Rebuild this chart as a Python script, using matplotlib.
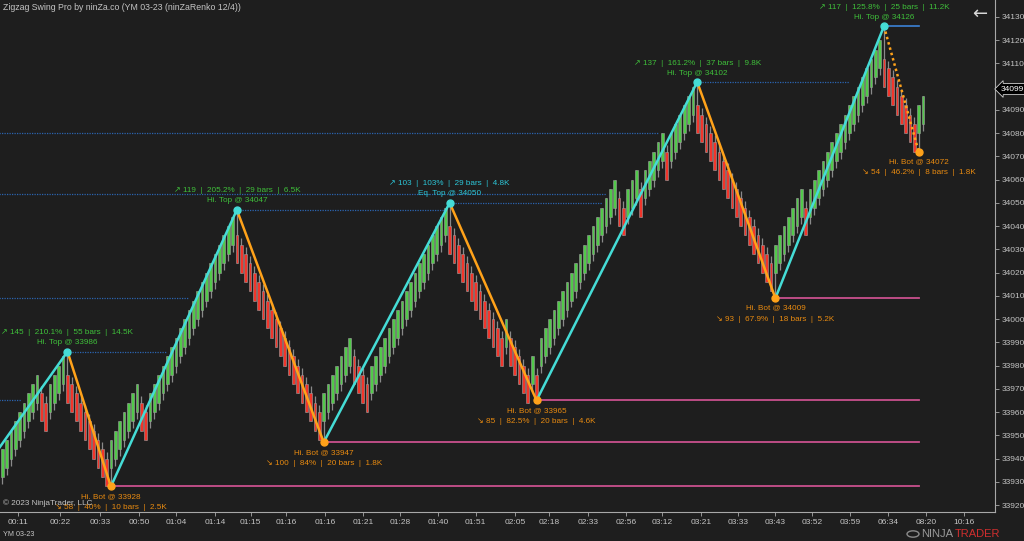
import matplotlib
matplotlib.use('Agg')
import matplotlib.pyplot as plt
from matplotlib.patches import Rectangle, Circle
from matplotlib.collections import PatchCollection, LineCollection
import matplotlib.transforms as mtransforms

plt.rcParams['font.family'] = ['Liberation Sans', 'DejaVu Sans']

# renko bar closes (ninZaRenko 12/4), one per bar
closes = [
    # run up into the 33986 top
    33944, 33948, 33952, 33956, 33960, 33964, 33968, 33972, 33976, 33956,
    33952, 33972, 33976, 33980, 33984, 33964,
    # down to 33928
    33960, 33956, 33952, 33948, 33944, 33940, 33936, 33932, 33928, 33948,
    # up to 34047
    33952, 33956, 33960, 33964, 33968, 33972, 33952, 33948, 33968, 33972,
    33976, 33980, 33984, 33988, 33992, 33996, 34000, 34004, 34008, 34012,
    34016, 34020, 34024, 34028, 34032, 34036, 34040, 34044, 34024,
    # down to 33947
    34020, 34016, 34012, 34008, 34004, 34000, 33996, 33992, 33988, 33984,
    33980, 33976, 33972, 33968, 33964, 33960, 33956, 33952, 33948, 33968,
    # up to 34050
    33972, 33976, 33980, 33984, 33988, 33992, 33972, 33968, 33964, 33960,
    33980, 33984, 33988, 33992, 33996, 34000, 34004, 34008, 34012, 34016,
    34020, 34024, 34028, 34032, 34036, 34040, 34044, 34048, 34028,
    # down to 33965
    34024, 34020, 34016, 34012, 34008, 34004, 34000, 33996, 33992, 33988,
    33984, 33980, 34000, 33980, 33976, 33972, 33968, 33964, 33984, 33964,
    # up to 34102
    33992, 33996, 34000, 34004, 34008, 34012, 34016, 34020, 34024, 34028,
    34032, 34036, 34040, 34044, 34048, 34052, 34056, 34060, 34040, 34036,
    34056, 34060, 34064, 34044, 34064, 34068, 34072, 34076, 34080, 34060,
    34080, 34084, 34088, 34092, 34096, 34100, 34080,
    # down to 34009
    34076, 34072, 34068, 34064, 34060, 34056, 34052, 34048, 34044, 34040,
    34036, 34032, 34028, 34024, 34020, 34016, 34012, 34032,
    # up to 34126
    34036, 34040, 34044, 34048, 34052, 34056, 34036, 34056, 34060, 34064,
    34068, 34072, 34076, 34080, 34084, 34088, 34092, 34096, 34100, 34104,
    34108, 34112, 34116, 34120, 34100,
    # current leg down to 34072 and the bounce
    34096, 34092, 34088, 34084, 34080, 34076, 34072, 34092, 34096,
]
last_price = 34099

# zigzag swing points (bar index, price); first one is off screen
pivot_idx = [-40, 15, 25, 54, 74, 103, 123, 160, 178, 203, 211]
pivot_px = [33841, 33986, 33928, 34047, 33947, 34050, 33965, 34102, 34009, 34126, 34072]

# swing labels for the visible pivots
pivot_names = ['Hi. Top', 'Hi. Bot', 'Hi. Top', 'Hi. Bot', 'Eq. Top',
               'Hi. Bot', 'Hi. Top', 'Hi. Bot', 'Hi. Top', 'Hi. Bot']
swing_pts = [145, 58, 119, 100, 103, 85, 137, 93, 117, 54]
swing_pct = ['210.1%', '40%', '205.2%', '84%', '103%', '82.5%', '161.2%', '67.9%', '125.8%', '46.2%']
swing_bars = [55, 10, 29, 20, 29, 20, 37, 18, 25, 8]
swing_vol = ['14.5K', '2.5K', '6.5K', '1.8K', '4.8K', '4.6K', '9.8K', '5.2K', '11.2K', '1.8K']

# broken resistance levels (dotted): price, from bar, to bar
res_price = [34080, 34054, 34009, 33965, 33986, 34047, 34050, 34102]
res_from = [-1, -1, -1, -1, 15, 54, 103, 160]
res_to = [151, 139, 43, 4.3, 38, 102, 138, 195]
# live top and live supports
top_level = (34126, 203, 211)
sup_price = [33928, 33947, 33965, 34009]
sup_from = [25, 74, 123, 178]
sup_to = 211

time_labels = ['00:11', '00:22', '00:33', '00:50', '01:04', '01:14', '01:15', '01:16', '01:16',
               '01:21', '01:28', '01:40', '01:51', '02:05', '02:18', '02:33', '02:56', '03:12',
               '03:21', '03:33', '03:43', '03:52', '03:59', '06:34', '08:20', '10:16']
time_ticks = [3.6, 13.3, 22.5, 31.5, 40, 49, 57.2, 65.3, 74.3, 83, 91.6, 100.3, 109, 118,
              125.9, 134.8, 143.6, 152, 160.9, 169.4, 177.9, 186.4, 195.2, 203.9, 212.7, 221.4]

BG = '#1e1e1e'
GREEN = '#52c94a'
RED = '#f2352b'
CYAN = '#45dcd6'
ORANGE = '#ffa21a'
TXT = '#c4c4c4'
BRICK = 12
TAIL = 3

W, H = 1024, 541
fig = plt.figure(figsize=(W / 100, H / 100), dpi=100, facecolor=BG)
ax = fig.add_axes([0, 29 / H, 995 / W, 512 / H])
ax.set_facecolor(BG)

# bars
bodies, colors, wicks = [], [], []
for i, c in enumerate(closes):
    up = True if i == 0 else c > closes[i - 1]
    o = c - BRICK if up else c + BRICK
    lo, hi = min(o, c), max(o, c)
    if up:
        lo -= TAIL
    else:
        hi += TAIL
    if i in pivot_idx:
        k = pivot_idx.index(i)
        if pivot_px[k] > pivot_px[k - 1]:
            hi = max(hi, pivot_px[k])
        else:
            lo = min(lo, pivot_px[k])
    wicks.append([(i, lo), (i, hi)])
    bodies.append(Rectangle((i - 0.31, min(o, c)), 0.62, BRICK))
    colors.append(GREEN if up else RED)

ax.add_collection(LineCollection(wicks, colors='#8a8a8a', linewidths=0.9, zorder=2))
ax.add_collection(PatchCollection(bodies, facecolors=colors, edgecolors='#9c9c9c',
                                  linewidths=0.4, zorder=3))

# level lines
for p, a, b in zip(res_price, res_from, res_to):
    ax.plot([a, b], [p, p], color='#2b64b0', lw=0.9, ls=(0, (1, 1)), zorder=1)
ax.plot([top_level[1], top_level[2]], [top_level[0]] * 2, color='#3b82d6', lw=1.2, zorder=1)
for p, a in zip(sup_price, sup_from):
    ax.plot([a, sup_to], [p, p], color='#c9508d', lw=1.3, zorder=1)

# zigzag
for k in range(1, len(pivot_idx)):
    xs = [pivot_idx[k - 1], pivot_idx[k]]
    ys = [pivot_px[k - 1], pivot_px[k]]
    going_up = ys[1] > ys[0]
    last = k == len(pivot_idx) - 1
    ax.plot(xs, ys, color=CYAN if going_up else ORANGE, lw=1.8,
            ls=(0, (1, 1.2)) if last else '-', zorder=4)

# pivot dots and labels
for k in range(1, len(pivot_idx)):
    x, p = pivot_idx[k], pivot_px[k]
    is_top = p > pivot_px[k - 1]
    ax.plot(x, p, 'o', ms=5, color=CYAN if is_top else ORANGE, zorder=5)
    j = k - 1
    name = pivot_names[j]
    if is_top:
        col = '#2cc6d8' if name.startswith('Eq') else '#3fbf3a'
        stats = f'↗ {swing_pts[j]}  |  {swing_pct[j]}  |  {swing_bars[j]} bars  |  {swing_vol[j]}'
        off1, off2 = 9, 19
    else:
        col = '#e88a10'
        stats = f'↘ {swing_pts[j]}  |  {swing_pct[j]}  |  {swing_bars[j]} bars  |  {swing_vol[j]}'
        off1, off2 = -10, -21
    ax.annotate(f'{name} @ {p}', (x, p), xytext=(0, off1), textcoords='offset pixels',
                ha='center', va='center', fontsize=5.9, color=col, zorder=6)
    ax.annotate(stats, (x, p), xytext=(0, off2), textcoords='offset pixels',
                ha='center', va='center', fontsize=5.9, color=col, zorder=6)

# axes
ax.set_xlim(-0.54, 228.57)
ax.set_ylim(33917.0, 34137.3)
ax.yaxis.tick_right()
ax.set_yticks(range(33920, 34131, 10))
ax.set_xticks(time_ticks)
ax.set_xticklabels(time_labels)
ax.tick_params(colors='#a8a8a8', labelcolor=TXT, labelsize=6, length=3, width=0.6, pad=2)
for s in ['top', 'left']:
    ax.spines[s].set_visible(False)
for s in ['right', 'bottom']:
    ax.spines[s].set_color('#a8a8a8')
    ax.spines[s].set_linewidth(0.8)

# last price marker
trans = mtransforms.blended_transform_factory(ax.transAxes, ax.transData)
ax.text(1.006, last_price, str(last_price), transform=trans, fontsize=6, color='white',
        va='center', ha='left', clip_on=False, zorder=7,
        bbox=dict(boxstyle='larrow,pad=0.25', fc='black', ec='#d0d0d0', lw=0.6))

# chrome texts
fig.text(3 / W, 1 - 7 / H, 'Zigzag Swing Pro by ninZa.co (YM 03-23 (ninZaRenko 12/4))',
         fontsize=6.3, color=TXT, va='center', ha='left')
fig.text(980 / W, 1 - 14 / H, '←', fontsize=13, color='#d8d8d8', va='center', ha='center',
         family='DejaVu Sans')
fig.text(3 / W, 1 - 503 / H, '© 2023 NinjaTrader, LLC', fontsize=5.9, color=TXT,
         va='center', ha='left')
fig.text(3 / W, 1 - 534 / H, 'YM 03-23', fontsize=5.2, color=TXT, va='center', ha='left')
fig.patches.append(Circle((913 / W, 1 - 534 / H), 6 / W, transform=fig.transFigure,
                          fill=False, ec='#8a8a8a', lw=1))
fig.text(921 / W, 1 - 534 / H, 'NINJA', fontsize=8, color='#9a9a9a', va='center', ha='left')
fig.text(955 / W, 1 - 534 / H, 'TRADER', fontsize=8, color='#cf2e2e', va='center', ha='left')

fig.savefig('out.png', dpi=100, facecolor=BG)
